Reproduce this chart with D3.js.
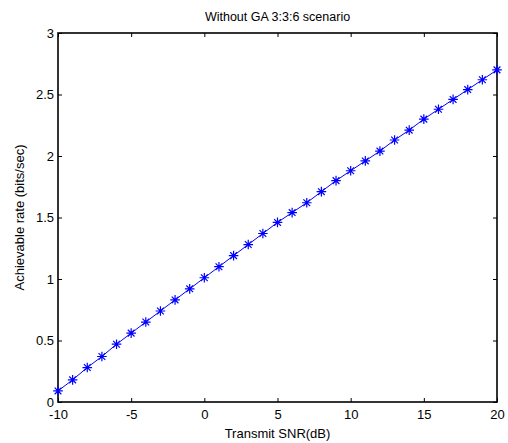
<!DOCTYPE html>
<html>
<head>
<meta charset="utf-8">
<script src="https://cdn.jsdelivr.net/npm/d3@7"></script>
<style>
  body { margin: 0; background: #fff; }
  svg { display: block; font-family: "Liberation Sans", Arial, sans-serif; }
</style>
</head>
<body>
<svg id="chart" width="508" height="443"></svg>
<script>
// data
const snrDb = [-10, -9, -8, -7, -6, -5, -4, -3, -2, -1, 0, 1, 2, 3, 4, 5, 6, 7, 8, 9, 10,
               11, 12, 13, 14, 15, 16, 17, 18, 19, 20];
const rate = [0.09, 0.18, 0.28, 0.37, 0.47, 0.56, 0.65, 0.74, 0.83, 0.92, 1.01,
              1.10, 1.19, 1.28, 1.37, 1.46, 1.54, 1.62, 1.71, 1.80, 1.88,
              1.96, 2.04, 2.13, 2.21, 2.30, 2.38, 2.46, 2.54, 2.62, 2.70];
const xTicks = [-10, -5, 0, 5, 10, 15, 20];
const yTicks = [0, 0.5, 1, 1.5, 2, 2.5, 3];

const svg = d3.select('#chart');
const mLeft = 58, mRight = 497, mTop = 33, mBottom = 402;
const FONT = 13;

const x = d3.scaleLinear().domain([-10, 20]).range([mLeft, mRight]);
const y = d3.scaleLinear().domain([0, 3]).range([mBottom, mTop]);

const pts = snrDb.map((d, i) => ({ x: d, y: rate[i] }));

// ticks on all four sides, pointing inward (MATLAB style, plain hyphen minus)
const TICK = 4;
svg.append('g').attr('transform', 'translate(0,' + mBottom + ')')
   .call(d3.axisBottom(x).tickValues(xTicks).tickSize(-TICK).tickPadding(8).tickFormat(d => String(d)));
svg.append('g').attr('transform', 'translate(0,' + mTop + ')')
   .call(d3.axisTop(x).tickValues(xTicks).tickSize(-TICK).tickFormat(''));
svg.append('g').attr('transform', 'translate(' + mLeft + ',0)')
   .call(d3.axisLeft(y).tickValues(yTicks).tickSize(-TICK).tickPadding(4).tickFormat(d => String(d)));
svg.append('g').attr('transform', 'translate(' + mRight + ',0)')
   .call(d3.axisRight(y).tickValues(yTicks).tickSize(-TICK).tickFormat(''));

svg.selectAll('.domain').remove();
svg.selectAll('.tick line').attr('stroke', '#000').attr('stroke-width', 1);
svg.selectAll('.tick text').attr('font-size', FONT).attr('fill', '#000')
   .attr('font-family', '"Liberation Sans", Arial, sans-serif');

// box
svg.append('rect')
   .attr('x', mLeft).attr('y', mTop)
   .attr('width', mRight - mLeft).attr('height', mBottom - mTop)
   .attr('fill', 'none').attr('stroke', '#000').attr('stroke-width', 1.6);

// line
svg.append('path')
   .datum(pts)
   .attr('fill', 'none')
   .attr('stroke', '#0000ff')
   .attr('stroke-width', 1)
   .attr('d', d3.line().x(d => x(d.x)).y(d => y(d.y)));

// asterisk markers
const M = 4.8;
const marks = svg.append('g').selectAll('g')
   .data(pts).enter().append('g')
   .attr('transform', d => 'translate(' + x(d.x) + ',' + y(d.y) + ')')
   .attr('stroke', '#0000ff').attr('stroke-width', 1.2);
marks.append('path')
   .attr('d', 'M' + (-M) + ',0H' + M + 'M0,' + (-M) + 'V' + M +
              'M' + (-M * 0.7) + ',' + (-M * 0.7) + 'L' + (M * 0.7) + ',' + (M * 0.7) +
              'M' + (-M * 0.7) + ',' + (M * 0.7) + 'L' + (M * 0.7) + ',' + (-M * 0.7));

// title and axis labels
svg.append('text')
   .attr('x', (mLeft + mRight) / 2).attr('y', 21)
   .attr('text-anchor', 'middle').attr('font-size', 12.5)
   .text('Without GA 3:3:6 scenario');

svg.append('text')
   .attr('x', (mLeft + mRight) / 2).attr('y', 438)
   .attr('text-anchor', 'middle').attr('font-size', FONT)
   .text('Transmit SNR(dB)');

svg.append('text')
   .attr('transform', 'translate(24,' + ((mTop + mBottom) / 2) + ') rotate(-90)')
   .attr('text-anchor', 'middle').attr('font-size', FONT)
   .text('Achievable rate (bits/sec)');
</script>
</body>
</html>
